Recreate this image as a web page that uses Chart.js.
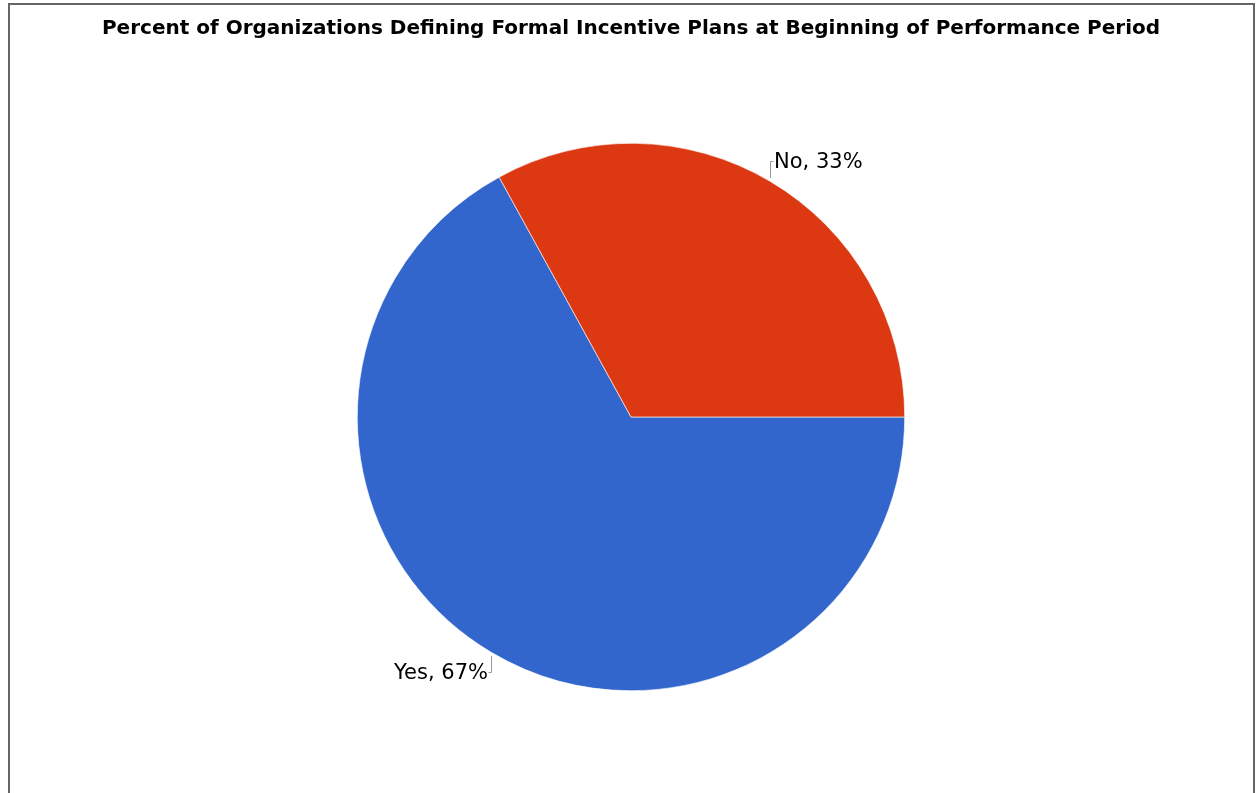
<!DOCTYPE html>
<html>
<head>
<meta charset="utf-8">
<script src="https://cdn.jsdelivr.net/npm/chart.js@4.4.1/dist/chart.umd.min.js"></script>
<style>
  html, body { margin: 0; padding: 0; background: #ffffff; }
  #wrap { position: relative; width: 1260px; height: 793px; overflow: hidden; }
  #frame {
    position: absolute; left: 8px; top: 3px; width: 1247px; height: 820px;
    border: 2px solid #666666; border-bottom: none; box-sizing: border-box;
    pointer-events: none;
  }
  canvas { position: absolute; left: 0; top: 0; }
</style>
</head>
<body>
<div id="wrap">
  <canvas id="chart" width="1260" height="793"></canvas>
  <div id="frame"></div>
</div>
<script>
const chartTitle = 'Percent of Organizations Defining Formal Incentive Plans at Beginning of Performance Period';
const categories = ['Yes', 'No'];
const percentValues = [67, 33];
const sliceColors = ['#3366CC', '#DC3912'];

// Slice labels with short elbow leader lines
const sliceLabels = {
  id: 'sliceLabels',
  afterDatasetsDraw(chart) {
    const ctx = chart.ctx;
    const meta = chart.getDatasetMeta(0);
    ctx.save();
    ctx.font = '21px "DejaVu Sans"';
    ctx.textBaseline = 'middle';
    meta.data.forEach((arc, i) => {
      const p = arc.getProps(['x', 'y', 'startAngle', 'endAngle', 'outerRadius'], true);
      const mid = (p.startAngle + p.endAngle) / 2;
      const cos = Math.cos(mid), sin = Math.sin(mid);
      const right = cos >= 0;
      const x0 = Math.round(p.x + cos * (p.outerRadius + 3)) + (right ? -1.5 : 1.5);
      const y0 = Math.round(p.y + sin * (p.outerRadius + 4));
      const dy = sin < 0 ? -17 : 16;
      const dx = right ? 3 : -3;
      ctx.strokeStyle = '#999999';
      ctx.lineWidth = 1;
      ctx.beginPath();
      ctx.moveTo(x0, y0);
      ctx.lineTo(x0, y0 + dy + 0.5);
      ctx.lineTo(x0 + dx, y0 + dy + 0.5);
      ctx.stroke();
      ctx.fillStyle = '#000000';
      ctx.textAlign = right ? 'left' : 'right';
      const text = categories[i] + ', ' + percentValues[i] + '%';
      ctx.fillText(text, x0 + dx + (right ? 0.5 : -0.5), y0 + dy + 2);
    });
    ctx.restore();
  }
};

new Chart(document.getElementById('chart'), {
  type: 'pie',
  data: {
    labels: categories,
    datasets: [{
      data: percentValues,
      backgroundColor: sliceColors,
      borderColor: '#ffffff',
      borderWidth: 0.6
    }]
  },
  options: {
    responsive: false,
    animation: false,
    rotation: 90,
    layout: { padding: { left: 2, right: 0, top: 0, bottom: 102 } },
    plugins: {
      legend: { display: false },
      tooltip: { enabled: false },
      title: {
        display: true,
        text: chartTitle,
        color: '#000000',
        font: { family: '"DejaVu Sans"', size: 20, weight: 'bold', lineHeight: 1.2 },
        padding: { top: 17, bottom: 102 }
      }
    }
  },
  plugins: [sliceLabels]
});
</script>
</body>
</html>
